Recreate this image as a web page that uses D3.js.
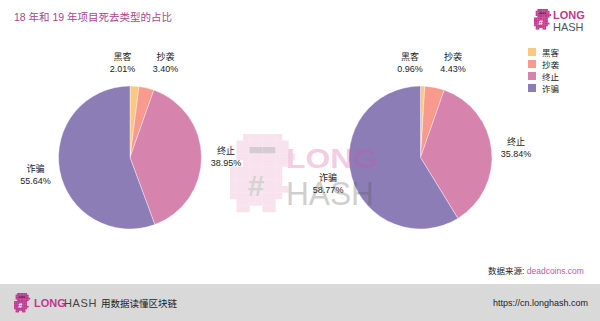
<!DOCTYPE html>
<html>
<head>
<meta charset="utf-8">
<script src="https://cdn.jsdelivr.net/npm/d3@7/dist/d3.min.js"></script>
<style>
  html, body { margin: 0; padding: 0; background: #fff; }
  svg { display: block; }
  text { font-family: "Liberation Sans", "Noto Sans CJK SC", sans-serif; }
</style>
</head>
<body>
<svg id="chart" width="600" height="321"></svg>
<script>
// Death causes of crypto projects, share (%) per year
const categories = ["黑客", "抄袭", "终止", "诈骗"];
const years = ["2018", "2019"];
const values2018 = [2.01, 3.40, 38.95, 55.64];
const values2019 = [0.96, 4.43, 35.84, 58.77];
const sliceColors = ["#fbc87f", "#f89a8e", "#d683ae", "#8d7db6"];

const titleText = "18 年和 19 年项目死去类型的占比";
const sourceLabel = "数据来源: ";
const sourceSite = "deadcoins.com";
const footerSlogan = "用数据读懂区块链";
const footerUrl = "https://cn.longhash.com";

const W = 600, H = 321;
const svg = d3.select("#chart");
const magenta = "#c0398e";

svg.append("rect").attr("width", W).attr("height", H).attr("fill", "#fff");

// title
svg.append("text")
  .attr("x", 14).attr("y", 21)
  .attr("font-size", 10.5)
  .attr("fill", "#a8458c")
  .text(titleText);

// pixel mascot built from a small cell map, with a "#" badge on its chest
function mascot(g, cell, body, dark, badge) {
  const shape = [
    "..xxxxxx..",
    ".xxxxxxxx.",
    ".xxddddxx.",
    ".xxxxxxxxx",
    "..xxxxxxx.",
    "xxxxxxxx..",
    "xxffffxx..",
    "xxffffxx..",
    "xxffffxxx.",
    "xxffffxx..",
    ".xxxxxx...",
    ".xx..xx..."
  ];
  shape.forEach((row, r) => {
    [...row].forEach((c, k) => {
      if (c === ".") return;
      g.append("rect")
        .attr("x", k * cell).attr("y", r * cell)
        .attr("width", cell + 0.2).attr("height", cell + 0.2)
        .attr("fill", c === "d" ? dark : body);
    });
  });
  g.append("text")
    .attr("x", 4 * cell).attr("y", 9.6 * cell)
    .attr("text-anchor", "middle")
    .attr("font-size", 4.6 * cell).attr("font-weight", 700)
    .attr("fill", badge).text("#");
}

// pies
const radius = 71.5;
const centers = d3.scalePoint().domain(years).range([130, 420.5]);
const cy = 157.5;
const pie = d3.pie().sort(null).value(d => d.value);
const arc = d3.arc().innerRadius(0).outerRadius(radius);
const color = d3.scaleOrdinal().domain(categories).range(sliceColors);
const labelDist = 96;

const series = { "2018": values2018, "2019": values2019 };

years.forEach(year => {
  const data = categories.map((c, i) => ({ cat: c, value: series[year][i] }));
  const arcs = pie(data);
  const g = svg.append("g").attr("transform", `translate(${centers(year)},${cy})`);

  g.selectAll("path.slice").data(arcs).join("path")
    .attr("class", "slice")
    .attr("d", arc)
    .attr("fill", d => color(d.data.cat))
    .attr("stroke", "#fff")
    .attr("stroke-width", 0.4);

  // radial label positions, then spread apart labels that collide
  const labels = arcs.map(d => {
    const a = (d.startAngle + d.endAngle) / 2;
    return { d, x: Math.sin(a) * labelDist, y: -Math.cos(a) * labelDist };
  });
  const minGap = 43;
  for (let iter = 0; iter < 10; iter++) {
    for (let i = 0; i < labels.length; i++) {
      for (let j = i + 1; j < labels.length; j++) {
        const A = labels[i], B = labels[j];
        if (Math.abs(A.y - B.y) < 24 && Math.abs(A.x - B.x) < minGap) {
          const mid = (A.x + B.x) / 2;
          const dir = A.x <= B.x ? 1 : -1;
          A.x = mid - dir * minGap / 2;
          B.x = mid + dir * minGap / 2;
          const my = (A.y + B.y) / 2;
          A.y = my; B.y = my;
        }
      }
    }
  }

  const lg = g.selectAll("g.lbl").data(labels).join("g")
    .attr("class", "lbl")
    .attr("transform", l => `translate(${l.x},${l.y})`);
  lg.append("text")
    .attr("text-anchor", "middle")
    .attr("y", -2.5)
    .attr("font-size", 9)
    .attr("fill", "#222")
    .text(l => l.d.data.cat);
  lg.append("text")
    .attr("text-anchor", "middle")
    .attr("y", 9.5)
    .attr("font-size", 9)
    .attr("fill", "#222")
    .text(l => l.d.data.value.toFixed(2) + "%");
});

// legend
const legend = svg.append("g").attr("transform", "translate(528,48)");
const legendY = d3.scalePoint().domain(categories).range([0, 36]);
categories.forEach(c => {
  const row = legend.append("g").attr("transform", `translate(0,${legendY(c)})`);
  row.append("rect").attr("width", 8).attr("height", 8).attr("fill", color(c));
  row.append("text").attr("x", 14).attr("y", 7.5)
    .attr("font-size", 8.5).attr("fill", "#222").text(c);
});

// faint watermark over the chart
const wm = svg.append("g").attr("opacity", 0.28);
mascot(wm.append("g").attr("transform", "translate(230,134)"), 6.5, "#e59ac6", "#6b4a66", "#666");
wm.append("text")
  .attr("x", 286).attr("y", 168)
  .attr("font-size", 27).attr("font-weight", 700)
  .attr("textLength", 92).attr("lengthAdjust", "spacingAndGlyphs")
  .attr("fill", "#d2509e").text("LONG");
wm.append("text")
  .attr("x", 286).attr("y", 205)
  .attr("font-size", 34).attr("font-weight", 300)
  .attr("font-family", "Lato, 'Open Sans', sans-serif")
  .attr("textLength", 88).attr("lengthAdjust", "spacingAndGlyphs")
  .attr("fill", "#555").text("HASH");

// top-right brand
mascot(svg.append("g").attr("transform", "translate(534,9)"), 1.7, magenta, "#5a2a50", "#fff");
svg.append("text").attr("x", 553).attr("y", 18.5)
  .attr("font-size", 11).attr("font-weight", 700).attr("fill", magenta).text("LONG");
svg.append("text").attr("x", 553).attr("y", 31)
  .attr("font-size", 11).attr("font-weight", 300)
  .attr("font-family", "Lato, 'Open Sans', sans-serif")
  .attr("fill", "#555").text("HASH");

// source note
const src = svg.append("text").attr("x", 488).attr("y", 274).attr("font-size", 8.5);
src.append("tspan").attr("fill", "#222").text(sourceLabel);
src.append("tspan").attr("fill", "#c4579f").text(sourceSite);

// footer band
svg.append("rect").attr("x", 0).attr("y", 284).attr("width", W).attr("height", H - 284).attr("fill", "#d9d9d9");
mascot(svg.append("g").attr("transform", "translate(14,293)"), 1.6, magenta, "#5a2a50", "#fff");
svg.append("text").attr("x", 34).attr("y", 307)
  .attr("font-size", 11).attr("font-weight", 700).attr("fill", magenta).text("LONG");
svg.append("text").attr("x", 64).attr("y", 307)
  .attr("font-size", 11).attr("font-weight", 300)
  .attr("font-family", "Lato, 'Open Sans', sans-serif")
  .attr("letter-spacing", 0.6)
  .attr("fill", "#444").text("HASH");
svg.append("text").attr("x", 101).attr("y", 306.5)
  .attr("font-size", 9.5).attr("fill", "#222").text(footerSlogan);
svg.append("text").attr("x", 588).attr("y", 306)
  .attr("text-anchor", "end")
  .attr("font-size", 9).attr("fill", "#222").text(footerUrl);
</script>
</body>
</html>
